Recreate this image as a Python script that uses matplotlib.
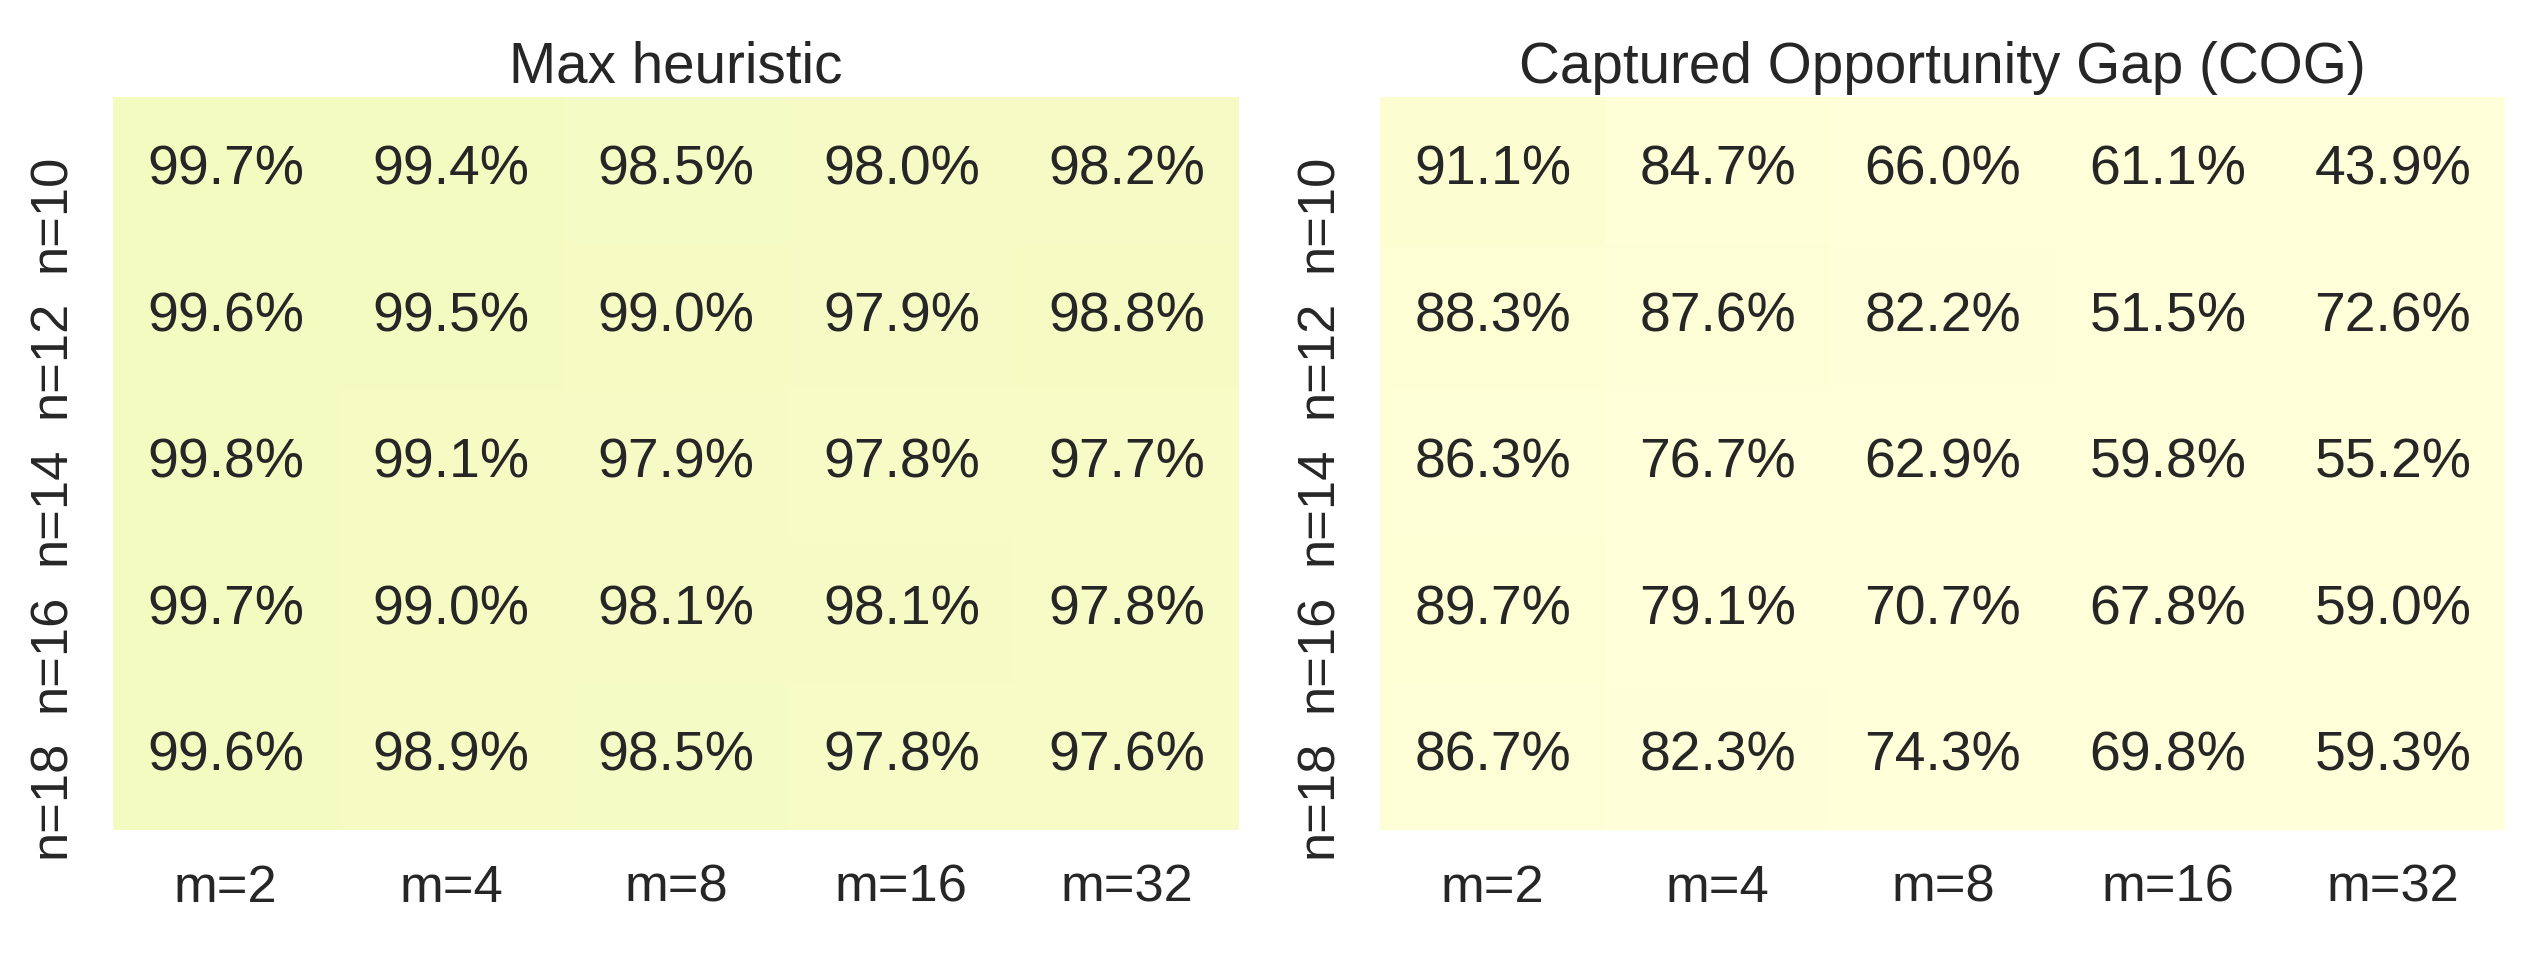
import matplotlib
matplotlib.use("Agg")
import matplotlib.pyplot as plt
from matplotlib.colors import PowerNorm
from matplotlib.transforms import ScaledTranslation
import seaborn as sns
import numpy as np

# Data (percent)
m_labels = ["m=2", "m=4", "m=8", "m=16", "m=32"]
n_labels = ["n=10", "n=12", "n=14", "n=16", "n=18"]

max_heuristic = [
    [99.7, 99.4, 98.5, 98.0, 98.2],
    [99.6, 99.5, 99.0, 97.9, 98.8],
    [99.8, 99.1, 97.9, 97.8, 97.7],
    [99.7, 99.0, 98.1, 98.1, 97.8],
    [99.6, 98.9, 98.5, 97.8, 97.6],
]
cog = [
    [91.1, 84.7, 66.0, 61.1, 43.9],
    [88.3, 87.6, 82.2, 51.5, 72.6],
    [86.3, 76.7, 62.9, 59.8, 55.2],
    [89.7, 79.1, 70.7, 67.8, 59.0],
    [86.7, 82.3, 74.3, 69.8, 59.3],
]
titles = ["Max heuristic", "Captured Opportunity Gap (COG)"]

sns.set_theme(style="white")
plt.rcParams['font.family'] = ['Liberation Sans', 'DejaVu Sans']

fig = plt.figure(figsize=(2542 / 300, 962 / 300), dpi=300)
ax1 = fig.add_axes([0.0445, 0.137, 0.443, 0.762])
ax2 = fig.add_axes([0.543, 0.137, 0.4426, 0.762])

# colour scale is very compressed: only values near 100% pick up a tint
norm = PowerNorm(gamma=13.4, vmin=0, vmax=120.4)
shift_up = ScaledTranslation(0, 17 / 300, fig.dpi_scale_trans)
for ax, vals, title in zip([ax1, ax2], [max_heuristic, cog], titles):
    arr = np.array(vals)
    annot = np.array([[f"{v:.1f}%" for v in row] for row in arr])
    sns.heatmap(arr, ax=ax, cmap="YlGnBu", norm=norm, cbar=False,
                annot=annot, fmt="", annot_kws={"size": 13.3, "color": "#262626"},
                xticklabels=m_labels, yticklabels=n_labels)
    ax.set_title(title, fontsize=13.6, pad=3.5)
    ax.set_xticklabels(m_labels, fontsize=12.6, rotation=0)
    ax.set_yticklabels(n_labels, fontsize=12.6, rotation=90, va="top")
    ax.tick_params(axis="x", length=0, pad=8)
    ax.tick_params(axis="y", length=0, pad=9)
    for lab in ax.get_yticklabels():
        lab.set_transform(lab.get_transform() + shift_up)

fig.savefig("out.png", dpi=300)
